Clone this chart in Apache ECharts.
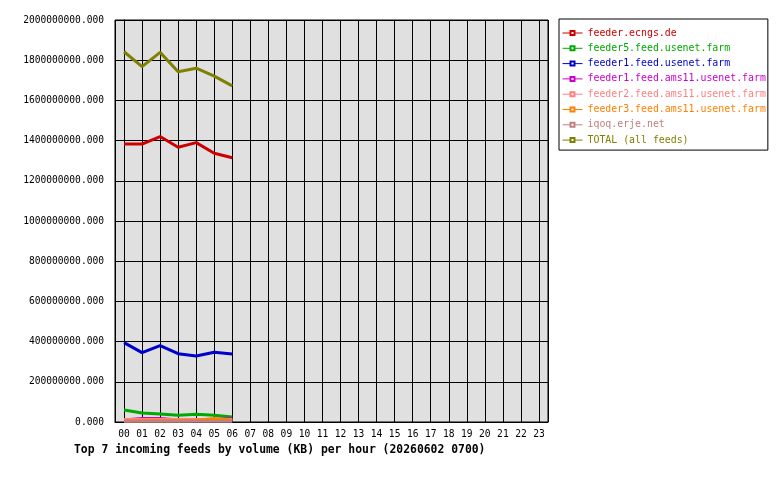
<!DOCTYPE html>
<html>
  <head>
    <meta http-equiv="Content-Type" content="text/html; charset=utf-8" />
    <title>feeds per hour</title>
    <style type="text/css">
      body{margin:0;background:#fff;}
      #chart1{width:780px;height:480px;}
    </style>
    <script type="text/javascript" src="https://cdn.jsdelivr.net/npm/echarts@6/dist/echarts.min.js"></script>
  </head>
  <body>
    <div id="chart1"></div>
  </body>
  <script type="text/javascript">
    // x轴 hours 00..23
    var hours = ['00','01','02','03','04','05','06','07','08','09','10','11',
                 '12','13','14','15','16','17','18','19','20','21','22','23'];
    var feedNames = ['feeder.ecngs.de','feeder5.feed.usenet.farm','feeder1.feed.usenet.farm',
                     'feeder1.feed.ams11.usenet.farm','feeder2.feed.ams11.usenet.farm',
                     'feeder3.feed.ams11.usenet.farm','iqoq.erje.net','TOTAL (all feeds)'];
    var feedColors = ['#cc0000','#00aa00','#0000cc','#cc00cc','#ff8080','#ff8000','#c08080','#808000'];

    // KB per hour, hours 00-06
    var ecngs   = [1383000000,1383000000,1420000000,1367000000,1390000000,1337000000,1315000000];
    var feeder5 = [60000000,45000000,40000000,33000000,38000000,33000000,25000000];
    var feeder1 = [395000000,345000000,380000000,340000000,328000000,347000000,338000000];
    var ams11_1 = [10000000,17000000,17000000,10000000,10000000,12000000,18000000];
    var ams11_2 = [12000000,12000000,12000000,12000000,12000000,12000000,12000000];
    var ams11_3 = [5000000,6000000,6000000,6000000,8000000,18000000,8000000];
    var iqoq    = [4000000,4000000,4000000,4000000,4000000,4000000,4000000];
    var total   = [1842000000,1768000000,1839000000,1743000000,1760000000,1721000000,1672000000];

    var allData = [ecngs,feeder5,feeder1,ams11_1,ams11_2,ams11_3,iqoq,total];

    var myChart = echarts.init(document.getElementById('chart1'), null, {renderer:'canvas'});

    var series = [];
    var legendData = [];
    for (var i = 0; i < feedNames.length; i++) {
      var pts = [];
      for (var j = 0; j < allData[i].length; j++) {
        pts.push([j, allData[i][j]]);
      }
      series.push({
        name: feedNames[i],
        type: 'line',
        data: pts,
        color: feedColors[i],
        symbol: 'emptyRect',
        showSymbol: false,
        lineStyle: {width: 3, color: feedColors[i]},
        animation: false
      });
      legendData.push({name: feedNames[i], textStyle: {color: feedColors[i]}});
    }

    var monoFont = 'DejaVu Sans Mono';

    myChart.setOption({
      animation: false,
      title: {
        text: 'Top 7 incoming feeds by volume (KB) per hour (20260602 0700)',
        left: 74,
        top: 445,
        padding: 0,
        textStyle: {fontFamily: monoFont, fontSize: 11.4, fontWeight: 'bold', color: '#000'}
      },
      legend: {
        orient: 'vertical',
        left: 559,
        top: 19,
        padding: [8, 2, 4, 3],
        itemGap: 3.3,
        itemWidth: 20,
        itemHeight: 5,
        backgroundColor: '#fff',
        borderColor: '#000',
        borderWidth: 1,
        borderRadius: 0,
        lineStyle: {width: 1},
        textStyle: {fontFamily: monoFont, fontSize: 9.9, lineHeight: 12},
        data: legendData
      },
      grid: {
        left: 115,
        top: 20,
        right: 232,
        bottom: 58,
        show: true,
        backgroundColor: '#e0e0e0',
        borderColor: '#000',
        borderWidth: 1
      },
      xAxis: {
        type: 'value',
        min: -0.5,
        max: 23.5,
        minInterval: 1,
        maxInterval: 1,
        axisLine: {show: true, lineStyle: {color: '#000'}},
        axisTick: {show: false},
        splitLine: {show: true, lineStyle: {color: '#000', width: 1}},
        axisLabel: {
          margin: 7,
          fontFamily: monoFont,
          fontSize: 9.6,
          color: '#000',
          formatter: function (v) {
            if (Math.abs(v - Math.round(v)) > 1e-6) return '';
            var k = Math.round(v);
            return hours[k] !== undefined ? hours[k] : '';
          }
        }
      },
      yAxis: {
        type: 'value',
        min: 0,
        max: 2000000000,
        interval: 200000000,
        axisLine: {show: true, lineStyle: {color: '#000'}},
        axisTick: {show: true, length: 5, lineStyle: {color: '#000'}},
        splitLine: {show: true, lineStyle: {color: '#000', width: 1}},
        axisLabel: {
          margin: 11,
          fontFamily: monoFont,
          fontSize: 9.6,
          color: '#000',
          formatter: function (v) { return v.toFixed(3); }
        }
      },
      series: series
    });
  </script>
</html>
